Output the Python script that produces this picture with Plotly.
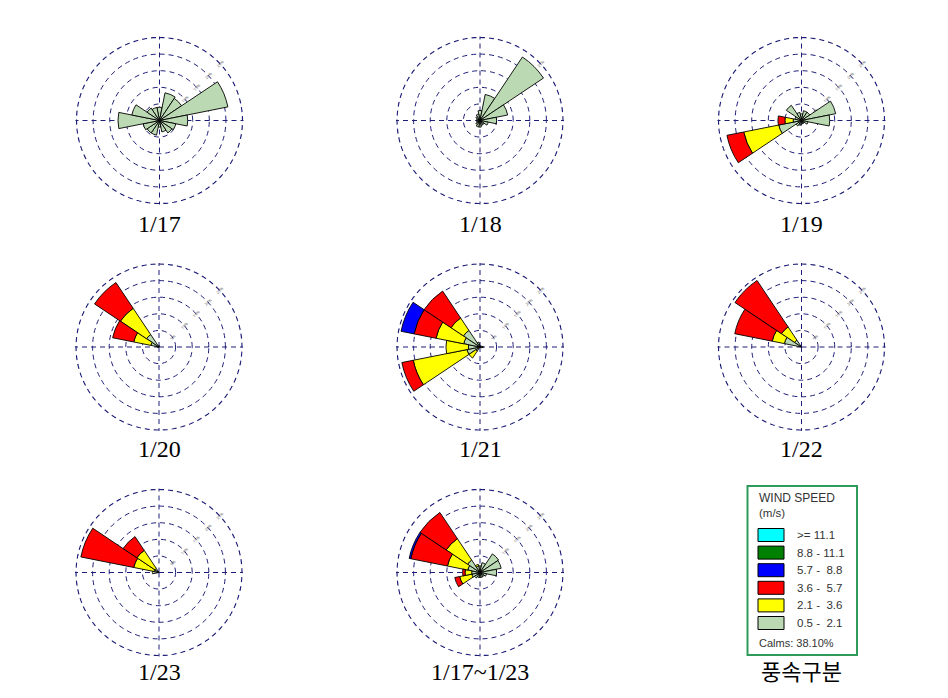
import plotly.graph_objects as go

# ---------------- data ----------------
DIRECTIONS = ["N", "NNE", "NE", "ENE", "E", "ESE", "SE", "SSE",
              "S", "SSW", "SW", "WSW", "W", "WNW", "NW", "NNW"]

SPEED_BINS = ["0.5 -  2.1", "2.1 -  3.6", "3.6 -  5.7", "5.7 -  8.8", "8.8 - 11.1", ">= 11.1"]
SPEED_COLORS = ["#BBD9B3", "#FFFF00", "#FF0000", "#0000FF", "#008000", "#00FFFF"]

DAYS = ["1/17", "1/18", "1/19", "1/20", "1/21", "1/22", "1/23", "1/17~1/23"]
CALMS_PCT = 38.10
RING_TICKS = [5, 10, 15, 20, 25]
RING_LABELS = ["5%", "10%", "15%", "20%", "25%"]

ZERO = [0] * 16
#            N    NNE  NE   ENE  E    ESE  SE   SSE  S    SSW  SW   WSW  W     WNW  NW   NNW
D17_G =    [4,   8.5, 8,   21,  8.5, 5,   4.5, 3.5, 2,   4.5, 4.5, 5,   12.5, 8.5, 4.5, 4]

D18_G =    [3,   8,   23,  8.5, 5,   2.5, 1.5, 1.5, 2,   2,   1.5, 1,   1,    1,   1.5, 2]

D19_G =    [2,   3,   3,   10.5, 8.5, 2,  1,   1,   1,   1.5, 2,   7,   2.5,  2,   5.5, 2.5]
D19_Y =    [0,   0,   0,   0,   0,   0,   0,   0,   0,   0,   0,   10.75, 2.5, 0,   0,   0]
D19_R =    [0,   0,   0,   0,   0,   0,   0,   0,   0,   0,   0,   5.15, 2.1,  0,   0,   0]

D20_G =    [0.5, 0,   0,   0,   0,   0,   0,   0,   0,   0,   0,   0,   0.5,  2.5, 4.5, 0]
D20_Y =    [0,   0,   0,   0,   0,   0,   0,   0,   0,   0,   0,   0,   0,    5.25, 9.5, 0]
D20_R =    [0,   0,   0,   0,   0,   0,   0,   0,   0,   0,   0,   0,   0,    6.5, 9.35, 0]

D21_G =    [0.5, 0,   0,   0.5, 1,   0.5, 0,   0,   0,   0,   1.5, 4,   3.5,  5,   6,   1.5]
D21_Y =    [0,   0,   0,   0,   0,   0,   0,   0,   0,   0,   2.5, 16.5, 6.75, 8.5, 4.5, 0]
D21_R =    [0,   0,   0,   0,   0,   0,   0,   0,   0,   0,   0,   3.5, 0,    6.75, 9.75, 0]
D21_B =    [0,   0,   0,   0,   0,   0,   0,   0,   0,   0,   0,   0,   0,    4,   0,   0]

D22_G =    [0,   0,   0,   0,   0,   0,   0,   0,   0,   0,   0,   0,   0,    5.25, 2.5, 0]
D22_Y =    [0,   0,   0,   0,   0,   0,   0,   0,   0,   0,   0,   0,   0,    3.75, 4.75, 0]
D22_R =    [0,   0,   0,   0,   0,   0,   0,   0,   0,   0,   0,   0,   0,    11.5, 16.85, 0]

D23_G =    [0,   0,   0,   0,   0,   0,   0,   0,   0,   0,   0,   0,   2,    1.5, 1.5, 0]
D23_Y =    [0,   0,   0,   0,   0,   0,   0,   0,   0,   0,   0,   0,   0,    6.25, 6.5, 0]
D23_R =    [0,   0,   0,   0,   0,   0,   0,   0,   0,   0,   0,   0,   0,    16.25, 5,  0]

DALL_G =   [2,   3,   6.75, 6.5, 5,  2,   1.5, 1.5, 1.5, 1.5, 2,   2.5, 2.5,  3.75, 4.5, 2]
DALL_Y =   [0,   0,   0,   0,   0,   0,   0,   0,   0,   0,   0,   3.75, 2,   6.25, 7.75, 0.5]
DALL_R =   [0,   0,   0,   0,   0,   0,   0,   0,   0,   0,   0,   1.5, 0.75, 11.25, 9.5, 0]
DALL_B =   [0,   0,   0,   0,   0,   0,   0,   0,   0,   0,   0,   0,   0,    0.5, 0,   0]

DAY_SERIES = [
    [D17_G, ZERO, ZERO, ZERO, ZERO, ZERO],
    [D18_G, ZERO, ZERO, ZERO, ZERO, ZERO],
    [D19_G, D19_Y, D19_R, ZERO, ZERO, ZERO],
    [D20_G, D20_Y, D20_R, ZERO, ZERO, ZERO],
    [D21_G, D21_Y, D21_R, D21_B, ZERO, ZERO],
    [D22_G, D22_Y, D22_R, ZERO, ZERO, ZERO],
    [D23_G, D23_Y, D23_R, ZERO, ZERO, ZERO],
    [DALL_G, DALL_Y, DALL_R, DALL_B, ZERO, ZERO],
]

# ---------------- layout helpers ----------------
OFF = 8                       # page body margin
W, H = 948 - 2 * OFF, 698 - 2 * OFF
DIR_DEG = [i * 360 / len(DIRECTIONS) for i in range(len(DIRECTIONS))]
CENTERS = [(159.5, 120.5), (480, 120.5), (801.5, 120.5),
           (159, 347), (480, 347), (801.5, 347),
           (159, 572.5), (480, 572.5)]
R_OUTER = RING_TICKS[-1]
R_MAX = R_OUTER * 1.012
RADIUS = 83 * R_MAX / R_OUTER
CAPTION_Y = [224, 224, 224, 449, 449, 449, 672, 672]
GRID = "#1E1E78"
DASH = "5px,4px"
GRID_W = 1.2


def px(x):
    return (x - OFF) / W


def py(y):
    return 1 - (y - OFF) / H


fig = go.Figure()

for k, day in enumerate(DAYS):
    pname = "polar" if k == 0 else f"polar{k + 1}"
    # dashed outer ring of the rose (gridline at the last ring value)
    ring_theta = list(range(0, 361, 2))
    fig.add_trace(go.Scatterpolar(
        r=[R_OUTER] * len(ring_theta), theta=ring_theta, mode="lines",
        line=dict(color=GRID, width=GRID_W, dash=DASH),
        hoverinfo="skip", subplot=pname, showlegend=False,
    ))
    for b, series in enumerate(DAY_SERIES[k]):
        th = [DIR_DEG[i] for i, v in enumerate(series) if v > 0]
        rr = [v for v in series if v > 0]
        if not rr:
            continue
        fig.add_trace(go.Barpolar(
            r=rr, theta=th, width=[22.5] * len(rr),
            marker=dict(color=SPEED_COLORS[b], line=dict(color="#000000", width=0.9)),
            name=SPEED_BINS[b], subplot=pname, showlegend=False,
        ))
    cx, cy = CENTERS[k]
    fig.layout[pname] = dict(
        domain=dict(x=[px(cx - RADIUS), px(cx + RADIUS)], y=[py(cy + RADIUS), py(cy - RADIUS)]),
        bgcolor="white",
        barmode="stack",
        radialaxis=dict(range=[0, R_MAX], tickvals=RING_TICKS, ticktext=RING_LABELS,
                        showline=False, ticks="", angle=45,
                        tickfont=dict(size=4, color="#555555"),
                        gridcolor=GRID, griddash=DASH, gridwidth=GRID_W, layer="below traces"),
        angularaxis=dict(rotation=90, direction="clockwise", tickvals=[0, 90, 180, 270],
                         showticklabels=False, ticks="", showline=False,
                         gridcolor=GRID, griddash=DASH, gridwidth=GRID_W, layer="below traces"),
    )
    fig.add_annotation(x=px(cx), y=py(CAPTION_Y[k]), xref="paper", yref="paper",
                       text=day, showarrow=False, xanchor="center", yanchor="middle",
                       font=dict(family="Liberation Serif", size=24, color="#000000"))

# ---------------- custom legend ----------------
LEG_FONT = "Liberation Sans"
fig.add_shape(type="rect", xref="paper", yref="paper",
              x0=px(747.5), x1=px(857), y0=py(655), y1=py(486),
              line=dict(color="#2E9B5A", width=2), fillcolor="white", layer="below")
fig.add_annotation(x=px(757), y=py(498), xref="paper", yref="paper", text="WIND SPEED",
                   showarrow=False, xanchor="left", yanchor="middle",
                   font=dict(family=LEG_FONT, size=12, color="#333333"))
fig.add_annotation(x=px(757), y=py(513), xref="paper", yref="paper", text="(m/s)",
                   showarrow=False, xanchor="left", yanchor="middle",
                   font=dict(family=LEG_FONT, size=11.5, color="#333333"))
n = len(SPEED_BINS)
for j in range(n):
    b = n - 1 - j
    yc = 535 + j * 17.6
    fig.add_shape(type="rect", xref="paper", yref="paper",
                  x0=px(758), x1=px(784), y0=py(yc + 6.5), y1=py(yc - 6.5),
                  line=dict(color="#000000", width=1), fillcolor=SPEED_COLORS[b])
    fig.add_annotation(x=px(795), y=py(yc), xref="paper", yref="paper", text=SPEED_BINS[b],
                       showarrow=False, xanchor="left", yanchor="middle",
                       font=dict(family=LEG_FONT, size=11.5, color="#333333"))
fig.add_annotation(x=px(757), y=py(643), xref="paper", yref="paper",
                   text=f"Calms: {CALMS_PCT:.2f}%",
                   showarrow=False, xanchor="left", yanchor="middle",
                   font=dict(family=LEG_FONT, size=11, color="#333333"))
fig.add_annotation(x=px(801), y=py(670), xref="paper", yref="paper", text="풍속구분",
                   showarrow=False, xanchor="center", yanchor="middle",
                   font=dict(family="Noto Sans CJK KR", size=22, color="#000000"))

fig.update_layout(width=W, height=H, margin=dict(l=0, r=0, t=0, b=0),
                  paper_bgcolor="white", plot_bgcolor="white", showlegend=False)

fig.write_html("out.html")
